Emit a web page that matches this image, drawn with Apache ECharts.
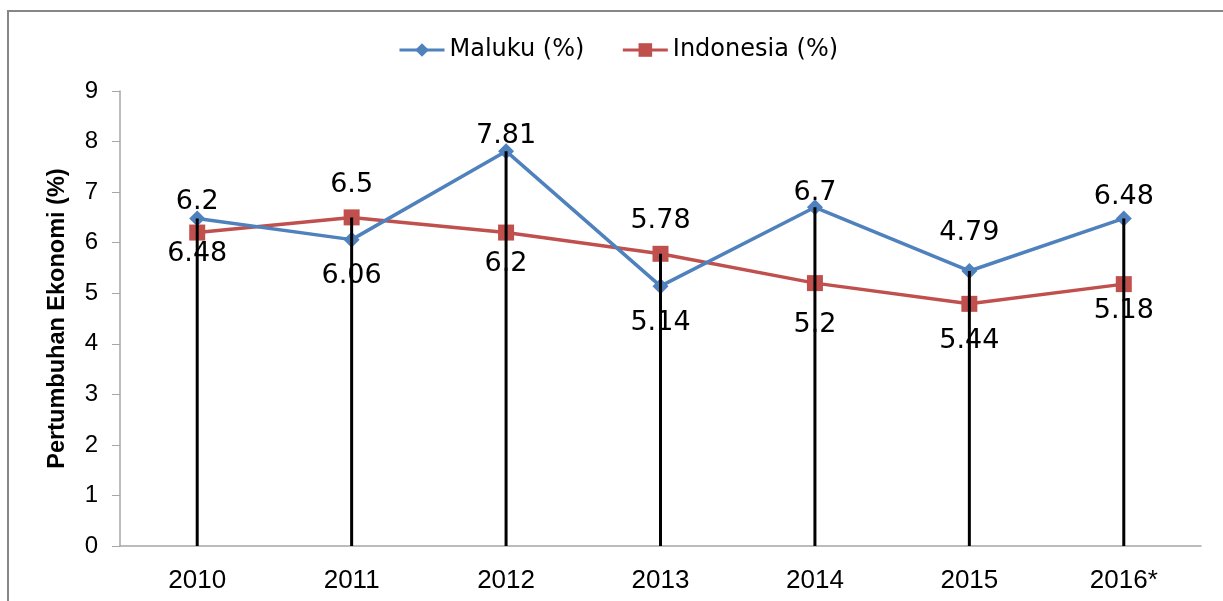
<!DOCTYPE html>
<html>
<head>
<meta charset="utf-8">
<script src="https://cdn.jsdelivr.net/npm/echarts@6/dist/echarts.min.js"></script>
<style>
  html, body { margin: 0; padding: 0; background: #fff; }
  #chart { width: 1223px; height: 601px; }
</style>
</head>
<body>
<div id="chart"></div>
<script>
  // data
  var years = ['2010', '2011', '2012', '2013', '2014', '2015', '2016*']
  var maluku = [6.48, 6.06, 7.81, 5.14, 6.7, 5.44, 6.48]
  var indonesia = [6.2, 6.5, 6.2, 5.78, 5.2, 4.79, 5.18]
  var yTicks = [0, 1, 2, 3, 4, 5, 6, 7, 8, 9]

  // where each value label sits relative to its point (px, + is down)
  var malukuLabelShift = [36, 36, -15, 37, -14, 70, -21]
  var indoLabelShift = [-31, -32, 31, -33, 42, -71, 27]

  var myChart = echarts.init(document.getElementById('chart'))

  // drop lines from 0 up to the higher of the two points
  var dropTop = maluku.map(function (v, i) { return Math.max(v, indonesia[i]) })

  function withLabels(values, shifts) {
    return values.map(function (v, i) {
      return { value: v, label: { offset: [0, shifts[i]] } }
    })
  }

  var labelStyle = {
    show: true,
    position: 'inside',
    color: '#000',
    fontFamily: 'DejaVu Sans',
    fontSize: 27
  }

  var option = {
    backgroundColor: '#fff',
    animation: false,
    graphic: [{
      type: 'polyline',
      shape: { points: [[8, 601], [8, 11], [1223, 11]] },
      style: { stroke: '#868686', lineWidth: 2, fill: null }
    }],
    legend: {
      data: ['Maluku (%)', 'Indonesia (%)'],
      left: 393,
      top: 33,
      itemWidth: 45,
      itemHeight: 17,
      itemGap: 37,
      lineStyle: { width: 3 },
      textStyle: { fontFamily: 'DejaVu Sans', fontSize: 24, color: '#000' }
    },
    grid: { left: 120, right: 22, top: 91, bottom: 55 },
    xAxis: {
      type: 'category',
      data: years,
      boundaryGap: true,
      axisLine: { lineStyle: { color: '#A6A6A6', width: 1.5 } },
      axisTick: { show: false },
      axisLabel: {
        margin: 22,
        color: '#000',
        fontFamily: 'Liberation Sans',
        fontSize: 26
      }
    },
    yAxis: {
      type: 'value',
      min: yTicks[0],
      max: yTicks[yTicks.length - 1],
      interval: 1,
      name: 'Pertumbuhan Ekonomi (%)',
      nameLocation: 'middle',
      nameRotate: 90,
      nameGap: 50,
      nameTextStyle: {
        color: '#000',
        fontFamily: 'Liberation Sans',
        fontWeight: 'bold',
        fontSize: 23.5
      },
      splitLine: { show: false },
      axisLine: { show: true, lineStyle: { color: '#A6A6A6', width: 1.5 } },
      axisTick: { show: true, length: 8, lineStyle: { color: '#A6A6A6' } },
      axisLabel: {
        margin: 22,
        color: '#000',
        fontFamily: 'Liberation Sans',
        fontSize: 24
      }
    },
    series: [
      {
        name: 'Maluku (%)',
        type: 'line',
        data: withLabels(maluku, malukuLabelShift),
        symbol: 'diamond',
        symbolSize: 16,
        z: 3,
        lineStyle: { color: '#4F81BD', width: 3.5 },
        itemStyle: { color: '#4F81BD' },
        label: labelStyle
      },
      {
        name: 'Indonesia (%)',
        type: 'line',
        data: withLabels(indonesia, indoLabelShift),
        symbol: 'rect',
        symbolSize: 16,
        z: 2,
        lineStyle: { color: '#C0504D', width: 3.5 },
        itemStyle: { color: '#C0504D' },
        label: labelStyle
      },
      {
        name: 'drop',
        type: 'bar',
        data: dropTop,
        barWidth: 3,
        z: 4,
        itemStyle: { color: '#000' },
        silent: true
      }
    ]
  }

  myChart.setOption(option)
</script>
</body>
</html>
